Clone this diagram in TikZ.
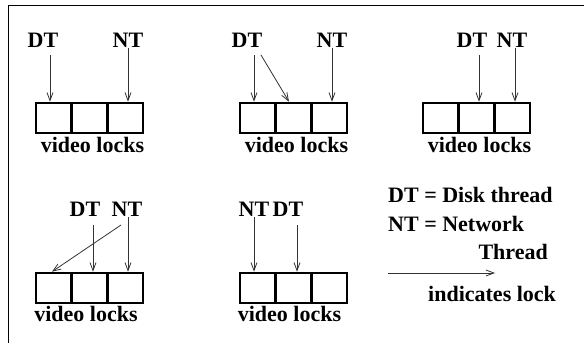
\documentclass[tikz,border=0pt]{standalone}
\usepackage{fontspec}
\setmainfont{Liberation Serif}
\usetikzlibrary{arrows.meta}
\begin{document}
\begin{tikzpicture}[x=1pt,y=-1pt,
  cell/.style={draw,line width=2.6pt,minimum width=35.7pt,minimum height=30pt,inner sep=0pt},
  tag/.style={font=\fontsize{22}{24}\selectfont\bfseries,inner sep=0pt,text depth=0pt,anchor=south},
  caption/.style={font=\fontsize{22}{24}\selectfont\bfseries,inner sep=0pt,anchor=base},
  lk/.style={draw=black!80,line width=0.8pt,-{Straight Barb[length=8pt,width=6pt]}}]
\useasboundingbox (0,0) rectangle (584,347);
% frame
\draw[line width=1pt] (8,343) -- (8,6) -- (584,6);

% --- panel 1
\foreach \i/\x in {1/53.8,2/89.5,3/125.2} \node[cell] (a\i) at (\x,118) {};
\node[tag] (dA) at (43,48) {DT};
\node[tag] (nA) at (128,48) {NT};
\node[caption] (vA) at (92.5,153) {video locks};
\draw[lk] ([xshift=7pt,yshift=-7pt]dA.south) -- ([xshift=-3.8pt]a1.north);
\draw[lk] (nA.south) -- ([xshift=2.8pt]a3.north);

% --- panel 2
\foreach \i/\x in {1/257.8,2/293.5,3/329.2} \node[cell] (b\i) at (\x,118) {};
\node[tag] (dB) at (247,48) {DT};
\node[tag] (nB) at (332,48) {NT};
\node[caption] (vB) at (296.5,153) {video locks};
\draw[lk] ([xshift=7pt,yshift=-7pt]dB.south) -- ([xshift=-3.8pt]b1.north);
\draw[lk] ([xshift=14pt,yshift=-7pt]dB.south) -- ([xshift=-4.5pt]b2.north);
\draw[lk] (nB.south) -- ([xshift=2.8pt]b3.north);

% --- panel 3
\foreach \i/\x in {1/440.8,2/476.5,3/512.2} \node[cell] (c\i) at (\x,118) {};
\node[tag] (dC) at (472,48) {DT};
\node[tag] (nC) at (512,48) {NT};
\node[caption] (vC) at (479.5,153) {video locks};
\draw[lk] ([xshift=7pt,yshift=-7pt]dC.south) -- ([xshift=2.5pt]c2.north);
\draw[lk] ([xshift=3pt]nC.south) -- ([xshift=2.8pt]c3.north);

% --- panel 4
\foreach \i/\x in {1/53.8,2/89.5,3/125.2} \node[cell] (d\i) at (\x,288) {};
\node[tag] (dD) at (85,217) {DT};
\node[tag] (nD) at (127,217) {NT};
\node[caption] (vD) at (86,322) {video locks};
\draw[lk] ([xshift=8pt,yshift=-8pt]dD.south) -- ([xshift=3.5pt]d2.north);
\draw[lk] ([xshift=1pt]nD.south) -- ([xshift=2.8pt]d3.north);
\draw[lk] ([xshift=-6pt,yshift=-8pt]nD.south) -- ([xshift=-1.8pt]d1.north);

% --- panel 5
\foreach \i/\x in {1/257.8,2/293.5,3/329.2} \node[cell] (e\i) at (\x,288) {};
\node[tag] (nE) at (254,217) {NT};
\node[tag] (dE) at (288,217) {DT};
\node[caption] (vE) at (289.5,322) {video locks};
\draw[lk] (nE.south) -- ([xshift=-3.8pt]e1.north);
\draw[lk] ([xshift=9pt,yshift=-8pt]dE.south) -- ([xshift=3.5pt]e2.north);

% --- legend
\node[caption,anchor=base west] (l1) at (388,203) {DT = Disk thread};
\node[caption,anchor=base west] (l2) at (388,232) {NT = Network};
\node[caption,anchor=base east] (l3) at (548,260) {Thread};
\coordinate (k0) at (388,273);
\coordinate (k1) at (495,273);
\draw[lk] (k0) -- (k1);
\node[caption,anchor=base west] (l4) at (428,302) {indicates lock};
\end{tikzpicture}
\end{document}
